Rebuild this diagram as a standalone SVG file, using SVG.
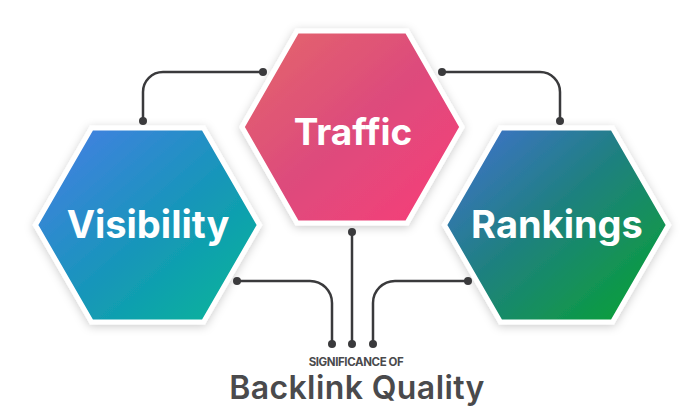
<svg xmlns="http://www.w3.org/2000/svg" width="700" height="419" viewBox="0 0 700 419">
<defs>
<style>
.hex{stroke:#fff;stroke-width:5;stroke-linejoin:miter;filter:url(#sh)}
.lbl{font-family:Inter,"Noto Sans",sans-serif;font-weight:700;fill:#fff;text-anchor:middle}
.con{fill:none;stroke:#3a3a3c;stroke-width:2.5}
.dot{fill:#3a3a3c}
.t{font-family:Inter,"Noto Sans",sans-serif;fill:#4a4a4c;text-anchor:middle}
</style>
<filter id="sh" x="-20%" y="-20%" width="140%" height="140%">
<feDropShadow dx="0" dy="2" stdDeviation="5" flood-color="#000" flood-opacity="0.2"/>
</filter>
<linearGradient id="gV" x1="0" y1="0" x2="1" y2="1">
<stop offset="0" stop-color="#4a7ce8"/>
<stop offset="0.55" stop-color="#1597b8"/>
<stop offset="1" stop-color="#03b895"/>
</linearGradient>
<linearGradient id="gT" x1="0" y1="0" x2="1" y2="1">
<stop offset="0" stop-color="#e4676a"/>
<stop offset="0.5" stop-color="#dd4b7c"/>
<stop offset="1" stop-color="#f93d78"/>
</linearGradient>
<linearGradient id="gR" x1="0" y1="0" x2="1" y2="1">
<stop offset="0" stop-color="#4470d6"/>
<stop offset="0.45" stop-color="#1f8080"/>
<stop offset="1" stop-color="#06a52c"/>
</linearGradient>
</defs>
<rect width="700" height="419" fill="#fff"/>
<g id="connectors">
<path class="con" d="M263,72 H163 A20,20 0 0 0 143,92 V121"/>
<path class="con" d="M442,72 H540 A20,20 0 0 1 560,92 V121"/>
<path class="con" d="M237,281 H310 A22,22 0 0 1 332,303 V344"/>
<path class="con" d="M352,232 V344"/>
<path class="con" d="M468,281 H395 A22,22 0 0 0 373,303 V344"/>
</g>
<g id="visibility">
<polygon class="hex" fill="url(#gV)" points="35.5,225 91.5,128 203.5,128 259.5,225 203.5,322 91.5,322"/>
<text class="lbl" x="148" y="238" font-size="38">Visibility</text>
</g>
<g id="traffic">
<polygon class="hex" fill="url(#gT)" points="242,127 297,31 407,31 462,127 407,223 297,223"/>
<text class="lbl" x="353" y="145" font-size="37">Traffic</text>
</g>
<g id="rankings">
<polygon class="hex" fill="url(#gR)" points="444.5,225 500.5,128 612.5,128 668.5,225 612.5,322 500.5,322"/>
<text class="lbl" x="557" y="238" font-size="38">Rankings</text>
</g>
<g id="dots">
<circle class="dot" cx="263" cy="72" r="4"/>
<circle class="dot" cx="143" cy="121" r="4"/>
<circle class="dot" cx="442" cy="72" r="4"/>
<circle class="dot" cx="560" cy="121" r="4"/>
<circle class="dot" cx="237" cy="281" r="4"/>
<circle class="dot" cx="468" cy="281" r="4"/>
<circle class="dot" cx="352" cy="232" r="4"/>
<circle class="dot" cx="332" cy="344" r="4"/>
<circle class="dot" cx="352" cy="344" r="4"/>
<circle class="dot" cx="373" cy="344" r="4"/>
</g>
<g id="title">
<text class="t" x="356" y="366" font-size="11.5" font-weight="700" letter-spacing="-0.4">SIGNIFICANCE OF</text>
<text class="t" x="357" y="399" font-size="32" font-weight="600" letter-spacing="0.4">Backlink Quality</text>
</g>
</svg>
